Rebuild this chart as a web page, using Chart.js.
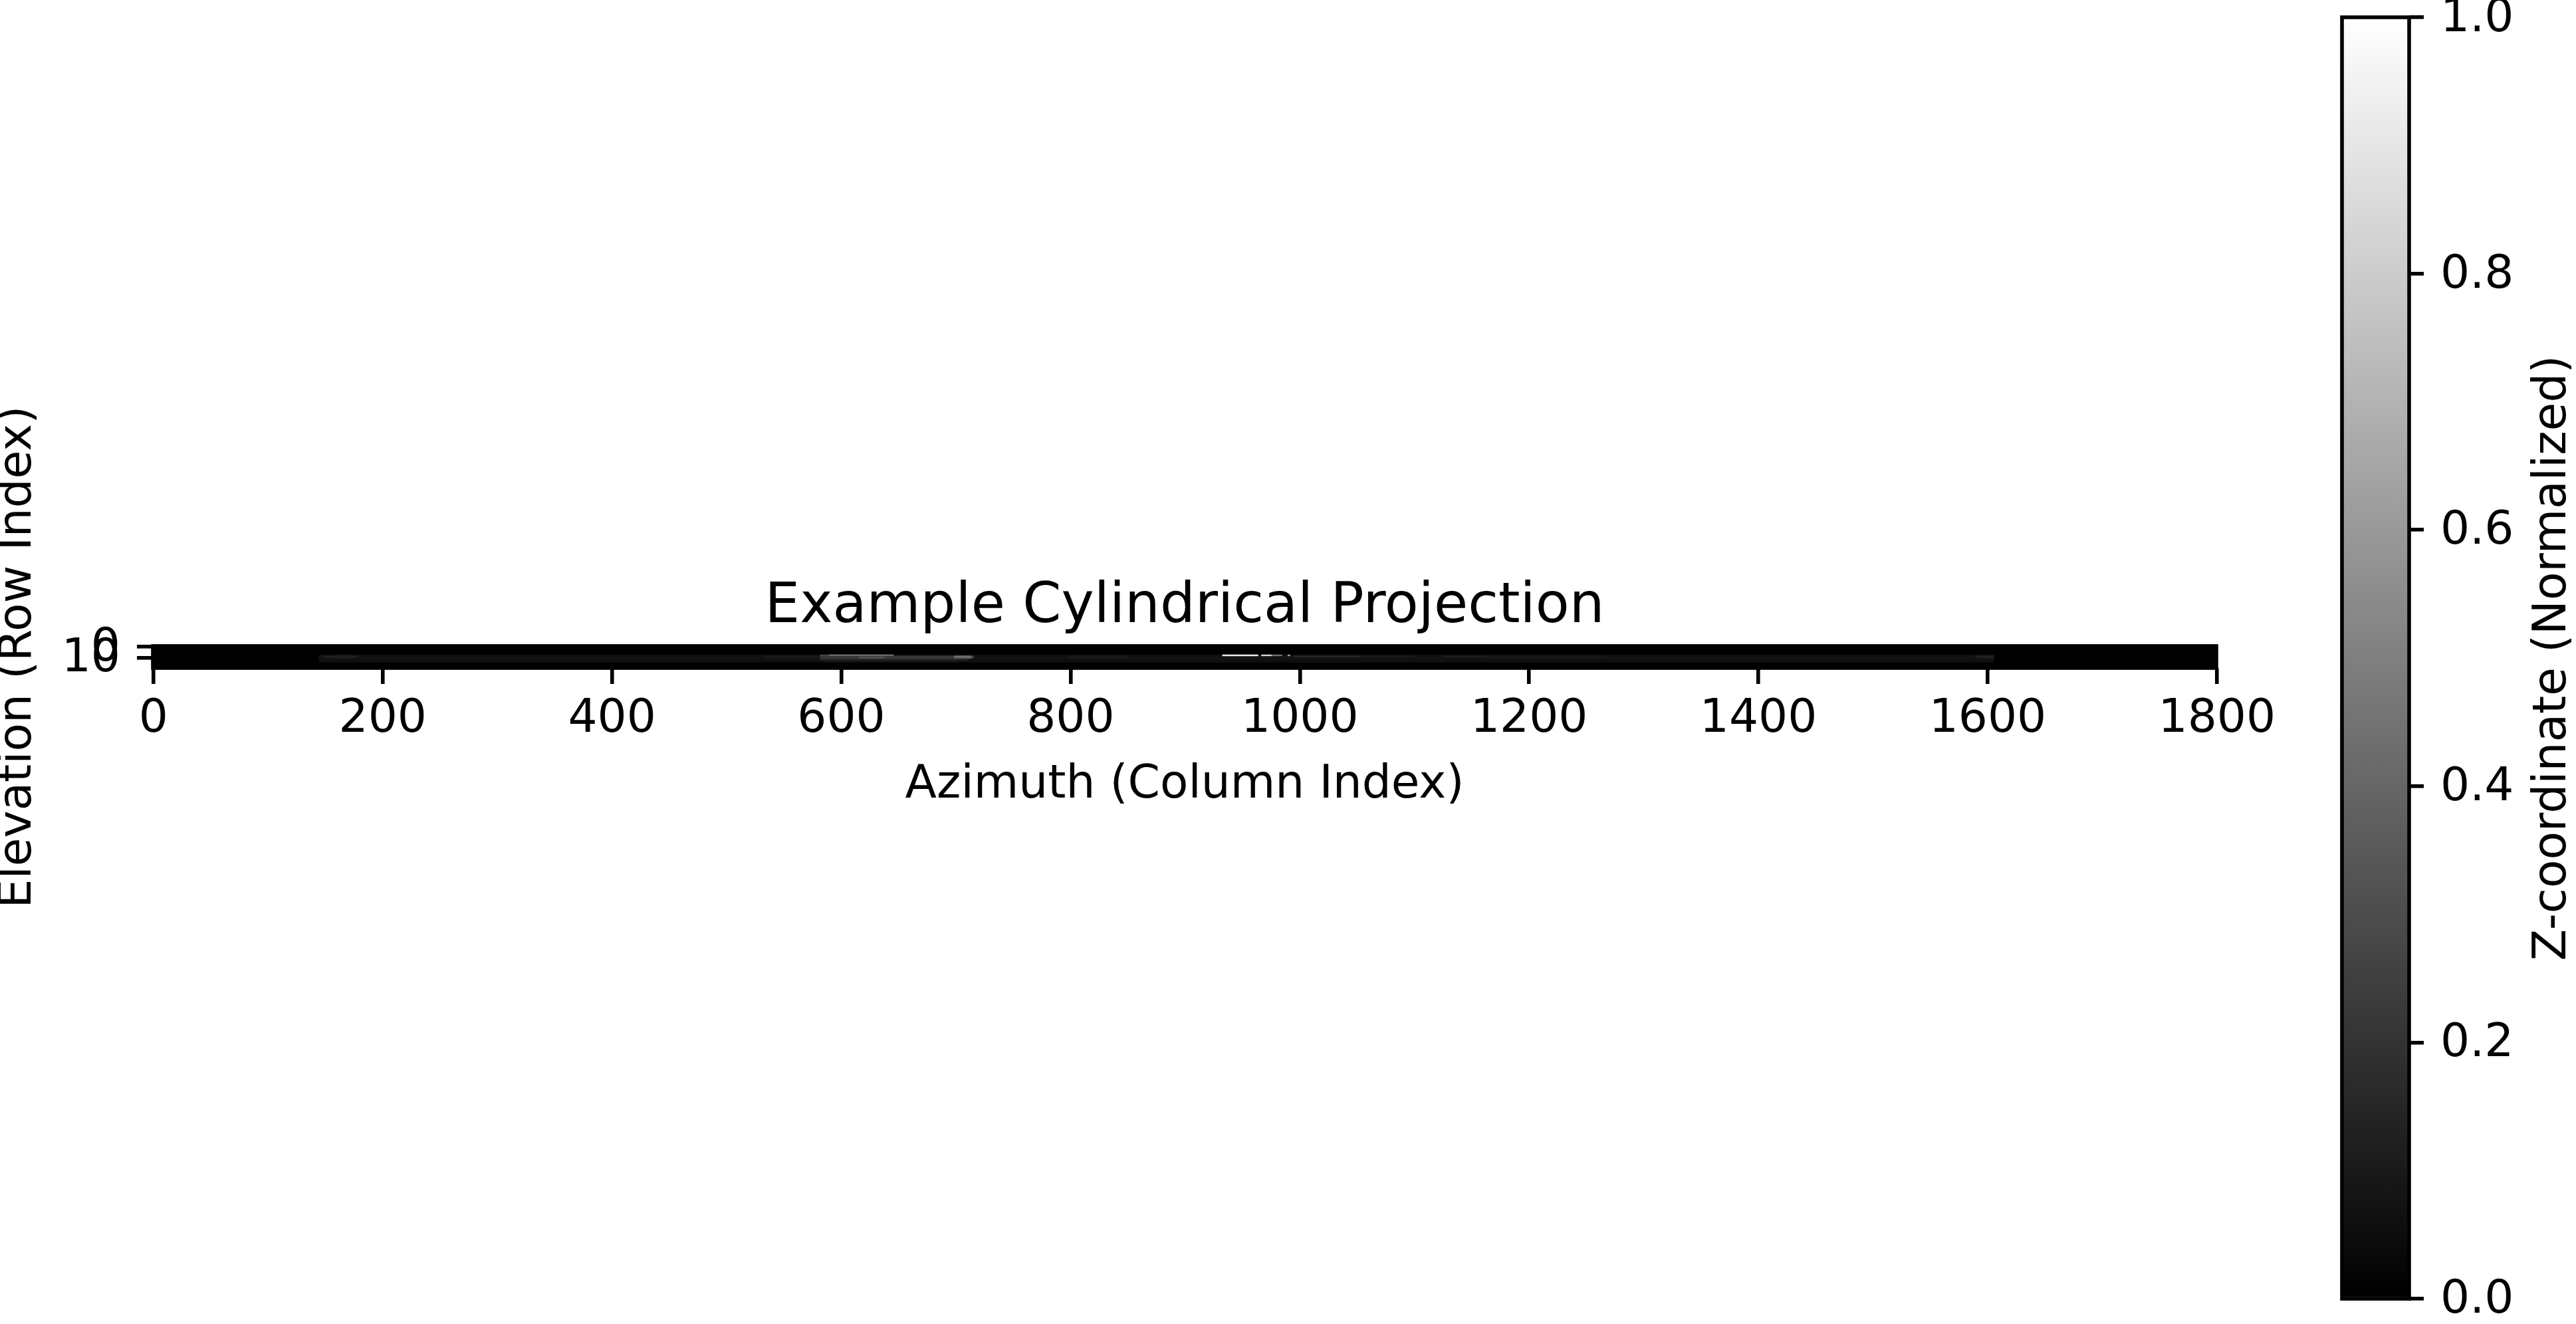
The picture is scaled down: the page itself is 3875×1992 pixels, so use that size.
<!DOCTYPE html>
<html>
<head>
<meta charset="utf-8">
<script src="https://cdn.jsdelivr.net/npm/chart.js@4.4.1/dist/chart.umd.min.js"></script>
<style>
html, body { margin: 0; padding: 0; background: #ffffff; overflow: hidden; width: 3875px; height: 1992px; }
#main { position: absolute; left: -14px; top: 0; }
#cbar { position: absolute; left: 3470px; top: 0; }
</style>
</head>
<body>
<canvas id="main" width="3484" height="1992"></canvas>
<canvas id="cbar" width="405" height="1992"></canvas>
<script>
// ---------------- data ----------------
const TITLE = 'Example Cylindrical Projection';
const X_LABEL = 'Azimuth (Column Index)';
const Y_LABEL = 'Elevation (Row Index)';
const CBAR_LABEL = 'Z-coordinate (Normalized)';

const N_COLS = 1800;
const ROW_LABELS = ['0','1','2','3','4','5','6','7','8','9','10','11','12','13','14','15','16','17','18','19'];
const X_TICKS = [0, 200, 400, 600, 800, 1000, 1200, 1400, 1600, 1800];
const Y_TICKS = ['0', '10'];
const CBAR_TICKS = [0.0, 0.2, 0.4, 0.6, 0.8, 1.0];

const BASE_VALUE = 0.0;

// streaks of non-black cells: row, first column, last column, normalized value
const STREAK_ROW   = [8, 9, 10, 11, 12, 13, 14,
                      9, 10, 8,
                      9, 10,
                      8, 8,
                      9, 10, 11, 12, 13,
                      10, 9, 10,
                      9, 10,
                      8, 8, 8, 8,
                      9, 9,
                      9, 9, 10,
                      9, 10];
const STREAK_START = [145, 145, 145, 145, 145, 145, 145,
                      148, 155, 160,
                      533, 533,
                      582, 590,
                      582, 582, 582, 582, 585,
                      616, 699, 699,
                      800, 800,
                      933, 967, 976, 990,
                      995, 1053,
                      1125, 1162, 1162,
                      1590, 1595];
const STREAK_END   = [1605, 1605, 1605, 1605, 1605, 1605, 1605,
                      178, 175, 172,
                      581, 581,
                      590, 645,
                      715, 715, 712, 710, 700,
                      637, 713, 713,
                      849, 849,
                      963, 976, 984, 991,
                      1053, 1100,
                      1162, 1264, 1264,
                      1605, 1605];
const STREAK_VALUE = [0.05, 0.075, 0.075, 0.07, 0.065, 0.06, 0.05,
                      0.13, 0.12, 0.10,
                      0.10, 0.09,
                      0.30, 0.50,
                      0.22, 0.24, 0.20, 0.15, 0.10,
                      0.35, 0.45, 0.40,
                      0.11, 0.10,
                      0.92, 0.85, 0.45, 0.60,
                      0.15, 0.10,
                      0.12, 0.09, 0.085,
                      0.14, 0.12];

// ---------------- helpers ----------------
function gray(v) {
  const g = Math.round(Math.max(0, Math.min(1, v)) * 255);
  return 'rgb(' + g + ',' + g + ',' + g + ')';
}

Chart.defaults.font.family = "'DejaVu Sans', sans-serif";
Chart.defaults.color = '#000000';

const TICK_FONT = { size: 69.4, family: "'DejaVu Sans', sans-serif" };
const TITLE_FONT = { size: 83.3, family: "'DejaVu Sans', sans-serif", weight: 'normal' };
const LINE_W = 5.6;

const baseCells = ROW_LABELS.map(r => ({ y: r, x: [-0.5, N_COLS - 0.5], v: BASE_VALUE }));
const streakCells = STREAK_ROW.map((r, i) => ({
  y: ROW_LABELS[r],
  x: [STREAK_START[i] - 0.5, STREAK_END[i] + 0.5],
  v: STREAK_VALUE[i]
}));

const framePlugin = {
  id: 'frame',
  beforeDatasetsDraw(chart, args, opts) {
    if (!opts.backdrop) return;
    const a = chart.chartArea, c = chart.ctx;
    c.save();
    c.fillStyle = opts.backdrop;
    c.fillRect(a.left, a.top, a.right - a.left, a.bottom - a.top);
    c.restore();
  },
  afterDatasetsDraw(chart) {
    const a = chart.chartArea, c = chart.ctx;
    c.save();
    c.strokeStyle = '#000000';
    c.lineWidth = LINE_W;
    c.strokeRect(a.left, a.top, a.right - a.left, a.bottom - a.top);
    c.restore();
  }
};

// ---------------- main image chart ----------------
new Chart(document.getElementById('main'), {
  type: 'bar',
  data: {
    labels: ROW_LABELS,
    datasets: [
      { data: baseCells, order: 2, backgroundColor: ctx => gray(ctx.raw ? ctx.raw.v : BASE_VALUE) },
      { data: streakCells, order: 1, backgroundColor: ctx => gray(ctx.raw ? ctx.raw.v : BASE_VALUE) }
    ]
  },
  plugins: [framePlugin],
  options: {
    responsive: false,
    animation: false,
    devicePixelRatio: 1,
    indexAxis: 'y',
    datasets: { bar: { grouped: false, barPercentage: 1, categoryPercentage: 1, borderWidth: 0 } },
    layout: { padding: { left: 0, right: 136, top: 864, bottom: 0 } },
    plugins: {
      legend: { display: false },
      tooltip: { enabled: false },
      frame: { backdrop: gray(BASE_VALUE) },
      title: {
        display: true, text: TITLE, font: TITLE_FONT, color: '#000000',
        fullSize: false, padding: { top: 0, bottom: 8 }
      }
    },
    scales: {
      x: {
        type: 'linear', position: 'bottom',
        min: -0.5, max: N_COLS - 0.5,
        afterBuildTicks: s => { s.ticks = X_TICKS.map(v => ({ value: v })); },
        ticks: { autoSkip: false, maxRotation: 0, minRotation: 0, padding: 12, font: TICK_FONT, color: '#000000',
                 callback: v => String(v) },
        grid: { drawOnChartArea: false, drawTicks: true, tickLength: 24, tickWidth: LINE_W, lineWidth: LINE_W, tickColor: '#000000' },
        border: { display: false },
        title: { display: true, text: X_LABEL, font: TICK_FONT, color: '#000000', padding: { top: 0, bottom: 768 } },
        afterFit: s => { s.height = 987; }
      },
      y: {
        type: 'category', position: 'left', offset: true,
        afterBuildTicks: s => { s.ticks = s.ticks.filter(t => Y_TICKS.includes(ROW_LABELS[t.value])); },
        ticks: { autoSkip: false, padding: 25, labelOffset: 3, font: TICK_FONT, color: '#000000' },
        grid: { offset: false, drawOnChartArea: false, drawTicks: true, tickLength: 24, tickWidth: LINE_W, lineWidth: LINE_W, tickColor: '#000000' },
        border: { display: false },
        title: { display: true, text: Y_LABEL, font: TICK_FONT, color: '#000000', padding: 0 },
        afterFit: s => { s.width = 244; s.paddingTop = 0; s.paddingBottom = 0; }
      }
    }
  }
});

// ---------------- colorbar ----------------
const cbarLabelPlugin = {
  id: 'cbarLabel',
  afterDraw(chart) {
    const c = chart.ctx, a = chart.chartArea, ys = chart.scales.y;
    c.save();
    c.translate(ys.right - 34, (a.top + a.bottom) / 2);
    c.rotate(-Math.PI / 2);
    c.font = "69.4px 'DejaVu Sans', sans-serif";
    c.fillStyle = '#000000';
    c.textAlign = 'center';
    c.textBaseline = 'middle';
    c.fillText(CBAR_LABEL, 0, 0);
    c.restore();
  }
};

new Chart(document.getElementById('cbar'), {
  type: 'bar',
  data: {
    labels: [''],
    datasets: [{
      data: [[CBAR_TICKS[0], CBAR_TICKS[CBAR_TICKS.length - 1]]],
      borderWidth: 0,
      barPercentage: 1,
      categoryPercentage: 1,
      backgroundColor: ctx => {
        const ch = ctx.chart, ys = ch.scales.y;
        if (!ch.chartArea || !ys) return gray(0.5);
        const lo = CBAR_TICKS[0], hi = CBAR_TICKS[CBAR_TICKS.length - 1];
        const g = ch.ctx.createLinearGradient(0, ys.getPixelForValue(lo), 0, ys.getPixelForValue(hi));
        g.addColorStop(0, gray(lo));
        g.addColorStop(1, gray(hi));
        return g;
      }
    }]
  },
  plugins: [framePlugin, cbarLabelPlugin],
  options: {
    responsive: false,
    animation: false,
    devicePixelRatio: 1,
    layout: { padding: { left: 53, right: 0, top: 26, bottom: 38 } },
    plugins: { legend: { display: false }, tooltip: { enabled: false }, title: { display: false }, frame: {} },
    scales: {
      x: { display: false },
      y: {
        type: 'linear', position: 'right', min: 0, max: 1,
        afterBuildTicks: s => { s.ticks = CBAR_TICKS.map(v => ({ value: v })); },
        ticks: { padding: 25, labelOffset: 3, font: TICK_FONT, color: '#000000', callback: v => Number(v).toFixed(1) },
        grid: { drawOnChartArea: false, drawTicks: true, tickLength: 22, tickWidth: LINE_W, lineWidth: LINE_W, tickColor: '#000000' },
        border: { display: false },
        afterFit: s => { s.width = 251; s.paddingTop = 0; s.paddingBottom = 0; }
      }
    }
  }
});
</script>
</body>
</html>
